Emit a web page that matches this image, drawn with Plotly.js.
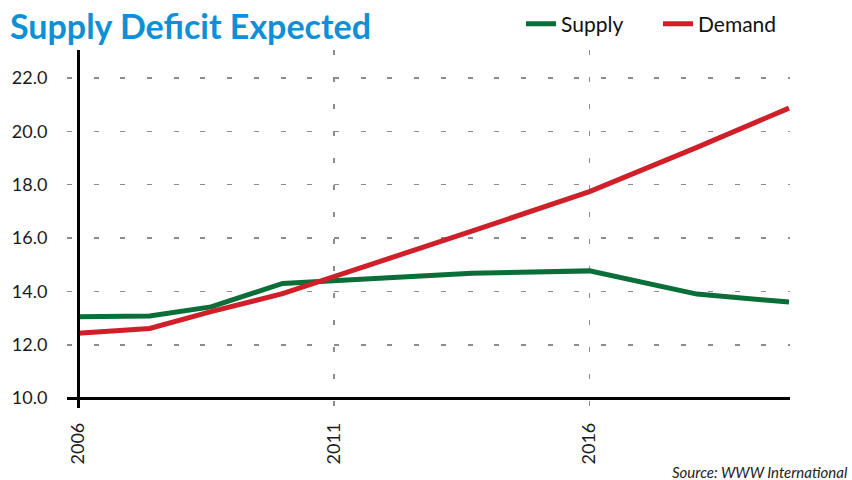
<!DOCTYPE html>
<html>
<head>
<meta charset="utf-8">
<script src="https://cdn.plot.ly/plotly-3.0.1.min.js"></script>
<style>html,body{margin:0;padding:0;background:#fff;}#chart{width:852px;height:480px;}</style>
</head>
<body>
<div id="chart"></div>
<script>
const years = [2006, 2007.4, 2008.6, 2010, 2013.7, 2016, 2018.1, 2019.9];
const supply = [13.05, 13.08, 13.42, 14.3, 14.68, 14.77, 13.9, 13.6];
const demand = [12.43, 12.61, 13.24, 13.92, 16.26, 17.74, 19.4, 20.87];
const xTicks = [2006, 2011, 2016];
const xTickLabels = ['2006', '2011', '2016'];
const yTicks = [10, 12, 14, 16, 18, 20, 22];
const yTickLabels = ['10.0', '12.0', '14.0', '16.0', '18.0', '20.0', '22.0'];

const FONT = 'Lato, "Open Sans", sans-serif';

const traces = [
  {x: years, y: supply, name: 'Supply', type: 'scatter', mode: 'lines',
   line: {color: '#0a6e38', width: 5}},
  {x: years, y: demand, name: 'Demand', type: 'scatter', mode: 'lines',
   line: {color: '#d01f28', width: 5}}
];

const layout = {
  width: 852, height: 480,
  margin: {l: 67, r: 62, t: 50, b: 72, autoexpand: false},
  paper_bgcolor: '#fff', plot_bgcolor: '#fff',
  font: {family: FONT, color: '#1a1a1a', size: 18},
  title: {text: '<b>Supply Deficit Expected</b>', x: 10/852, xref: 'container', xanchor: 'left',
          y: 1 - 27/480, yref: 'container', yanchor: 'middle',
          font: {family: FONT, size: 34, color: '#0e8fd6'}},
  showlegend: true,
  legend: {orientation: 'h', x: (521-67)/723, xanchor: 'left', y: (408-24)/358, yanchor: 'middle',
           font: {family: FONT, size: 21, color: '#111'}, itemwidth: 30, entrywidth: 92,
           bgcolor: 'rgba(0,0,0,0)', borderwidth: 0, traceorder: 'normal'},
  xaxis: {range: [2005.785, 2019.92], anchor: 'free', position: (408-398)/358,
          tickvals: xTicks, ticktext: xTickLabels, tickangle: -90,
          ticks: 'outside', ticklen: 16, tickcolor: 'rgba(0,0,0,0)',
          showline: true, linecolor: '#000', linewidth: 2.5,
          showgrid: true, gridcolor: '#8c8c8c', gridwidth: 1.5, griddash: '5px,22px',
          zeroline: false, tickfont: {size: 18, color: '#1a1a1a'}},
  yaxis: {range: [9.63, 23.05], anchor: 'free', position: (78-67)/723,
          tickvals: yTicks, ticktext: yTickLabels,
          ticks: 'outside', ticklen: 26, tickcolor: 'rgba(0,0,0,0)',
          showline: true, linecolor: '#000', linewidth: 2.5,
          showgrid: true, gridcolor: '#8c8c8c', gridwidth: 1.5, griddash: '5px,21.7px',
          zeroline: false, tickfont: {size: 18, color: '#1a1a1a'}},
  annotations: [
    {text: '<i>Source: WWW International</i>', xref: 'paper', yref: 'paper',
     x: (850-67)/723, y: (408-472)/358, xanchor: 'right', yanchor: 'middle',
     showarrow: false, font: {family: FONT, size: 15, color: '#222'}}
  ]
};

Plotly.newPlot('chart', traces, layout, {displayModeBar: false, staticPlot: true});
</script>
</body>
</html>
